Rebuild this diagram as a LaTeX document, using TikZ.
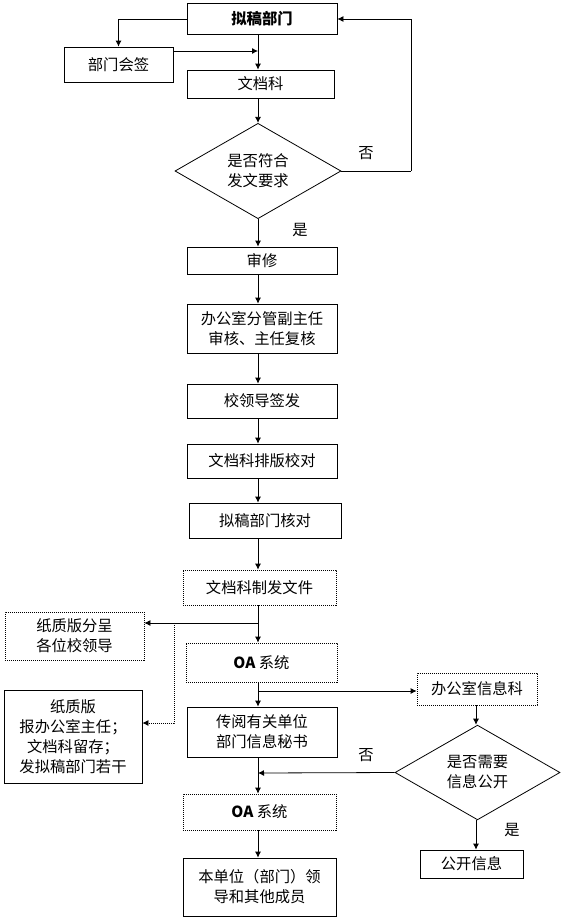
\documentclass[tikz,border=0pt]{standalone}
\usepackage{fontspec}
\setmainfont{Noto Sans CJK SC}
\usetikzlibrary{shapes.geometric,arrows.meta}
\newcommand\fs{\fontsize{15.3}{20}\selectfont}
\tikzset{
  box/.style={draw, rectangle, line width=0.8pt, inner sep=0pt, align=center, font=\fs},
  dotline/.style={dash pattern=on 1.4pt off 0.6pt},
  dotbox/.style={box, dotline},
  dia/.style={draw, diamond, line width=0.8pt, inner sep=0pt, align=center, font=\fs},
  arr/.style={line width=0.8pt, -{Latex[length=6pt,width=6pt]}},
  darr/.style={arr, dotline},
  lbl/.style={font=\fs, inner sep=0pt}
}
\begin{document}
\begin{tikzpicture}[x=1pt,y=-1pt]
\useasboundingbox (0,0) rectangle (563,918);
\coordinate (spine) at (258,0);
\coordinate (spineB) at (476,0);
% nodes
\node[box, minimum width=150pt, minimum height=31pt, font=\fs\bfseries] (n1) at (262,19) {拟稿部门};
\node[box, minimum width=109pt, minimum height=35pt] (hq) at (118.5,64.5) {部门会签};
\node[box, minimum width=147pt, minimum height=28pt] (n2) at (260.5,84) {文档科};
\node[dia, minimum width=166pt, minimum height=88pt] (d1) at (258,171) {是否符合\\发文要求};
\node[lbl] (no1) at (366,153) {否};
\node[lbl] (yes1) at (300,230) {是};
\node[box, minimum width=150pt, minimum height=27pt] (s1) at (262,260.5) {审修};
\node[box, minimum width=150pt, minimum height=49pt] (s2) at (262,328.5) {办公室分管副主任\\审核、主任复核};
\node[box, minimum width=150pt, minimum height=34pt] (s3) at (262,401) {校领导签发};
\node[box, minimum width=150pt, minimum height=34pt] (s4) at (262,461) {文档科排版校对};
\node[box, minimum width=152pt, minimum height=35pt] (s5) at (265,520.5) {拟稿部门核对};
\node[dotbox, minimum width=153pt, minimum height=35pt] (s6) at (259.5,587.5) {文档科制发文件};
\node[dotbox, minimum width=139pt, minimum height=48pt] (p1) at (74.5,636) {纸质版分呈\\各位校领导};
\node[dotbox, minimum width=151pt, minimum height=39pt] (oa1) at (261.5,662.5) {\textbf{OA} 系统};
\node[box, minimum width=138pt, minimum height=93pt] (p2) at (73,736.5) {纸质版\\报办公室主任；\\文档科留存；\\发拟稿部门若干};
\node[dotbox, minimum width=120pt, minimum height=32pt] (info) at (477,689) {办公室信息科};
\node[box, minimum width=150pt, minimum height=50pt] (cy) at (262,732) {传阅有关单位\\部门信息秘书};
\node[dia, minimum width=165pt, minimum height=87pt] (d2) at (477.5,772.5) {是否需要\\信息公开};
\node[lbl] (no2) at (366,755) {否};
\node[lbl] (yes2) at (512,830) {是};
\node[dotbox, minimum width=153pt, minimum height=36pt] (oa2) at (259.5,812) {\textbf{OA} 系统};
\node[box, minimum width=153pt, minimum height=58pt] (bd) at (259.5,887) {本单位（部门）领\\导和其他成员};
\node[box, minimum width=103pt, minimum height=28pt] (gk) at (471.5,864) {公开信息};
% helper coordinates
\coordinate (b1) at (258,623);
\coordinate (b2) at (174,623);
\coordinate (b3) at (258,691);
\coordinate (b4) at (258,773);
\coordinate (lp) at (411,171);
% connectors
\draw[arr] (n1.west) -| (hq.north);
\draw[arr] (hq.east |- 0,51) -- (spine |- 0,51);
\draw[arr] (n1.south -| spine) -- (n2.north -| spine);
\draw[arr] (n2.south -| spine) -- (d1.north);
\draw[darr] (d1.east) -- (lp) |- (n1.east);
\draw[arr] (d1.south) -- (s1.north -| spine);
\draw[arr] (s1.south -| spine) -- (s2.north -| spine);
\draw[arr] (s2.south -| spine) -- (s3.north -| spine);
\draw[arr] (s3.south -| spine) -- (s4.north -| spine);
\draw[arr] (s4.south -| spine) -- (s5.north -| spine);
\draw[arr] (s5.south -| spine) -- (s6.north -| spine);
\draw[arr] (s6.south -| spine) -- (oa1.north -| spine);
\draw[arr] (b1) -- (p1.east |- b1);
\draw[darr] (b2) |- (p2.east |- 0,723);
\draw[arr] (oa1.south -| spine) -- (cy.north -| spine);
\draw[arr] (b3) -- (info.west |- b3);
\draw[darr] (info.south -| spineB) -- (d2.north -| spineB);
\draw[arr] (d2.west) -- (b4);
\draw[darr] (cy.south -| spine) -- (oa2.north -| spine);
\draw[arr] (oa2.south -| spine) -- (bd.north -| spine);
\draw[darr] (d2.south -| spineB) -- (gk.north -| spineB);
\end{tikzpicture}
\end{document}
